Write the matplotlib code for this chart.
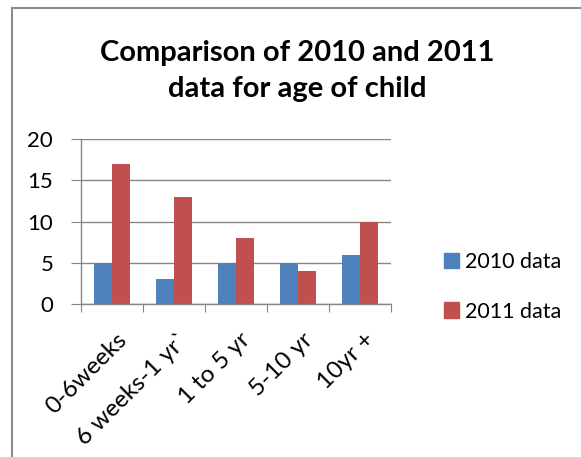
import matplotlib
matplotlib.use("Agg")
import matplotlib.pyplot as plt
import numpy as np
from matplotlib.lines import Line2D

categories = ["0-6weeks", "6 weeks-1 yr`", "1 to 5 yr", "5-10 yr", "10yr +"]
data_2010 = [5, 3, 5, 5, 6]
data_2011 = [17, 13, 8, 4, 10]
series_names = ["2010 data", "2011 data"]
y_ticks = [0, 5, 10, 15, 20]

BLUE = "#4F81BD"
RED = "#C0504D"
GRID = "#868686"

plt.rcParams["font.family"] = ["Lato", "DejaVu Sans"]

W, H = 581, 457
fig = plt.figure(figsize=(W / 100, H / 100), dpi=100)
ax = fig.add_axes([81 / W, 1 - 304 / H, 310 / W, 165 / H])

x = np.arange(len(categories))
bw = 0.29
ax.bar(x - bw / 2, data_2010, bw, color=BLUE, label=series_names[0])
ax.bar(x + bw / 2, data_2011, bw, color=RED, label=series_names[1])

ax.set_xlim(-0.5, len(categories) - 0.5)
ax.set_ylim(0, 20)
ax.set_yticks(y_ticks)
ax.yaxis.grid(True, color=GRID, linewidth=1)
ax.set_axisbelow(True)
for s in ("top", "right"):
    ax.spines[s].set_visible(False)
for s in ("left", "bottom"):
    ax.spines[s].set_color(GRID)
    ax.spines[s].set_linewidth(1)

# category boundaries carry the tick marks, labels sit at centres
ax.set_xticks(np.arange(len(categories) + 1) - 0.5)
ax.set_xticklabels([])
ax.set_xticks(x + 0.06, minor=True)
ax.set_xticklabels(categories, minor=True, rotation=45, ha="right",
                   va="top", rotation_mode="anchor", fontsize=17.5)
ax.tick_params(axis="x", which="minor", length=0, pad=18)
ax.tick_params(axis="x", which="major", direction="out", length=6, color=GRID)
ax.tick_params(axis="y", direction="out", length=7, color=GRID, labelsize=16, pad=13)

fig.text(297 / W, 1 - 71 / H, "Comparison of 2010 and 2011\ndata for age of child",
         ha="center", va="center", fontsize=21, fontweight="bold", linespacing=1.5)

handles = [plt.Rectangle((0, 0), 1, 1, color=BLUE), plt.Rectangle((0, 0), 1, 1, color=RED)]
fig.legend(handles, series_names, loc="center left", bbox_to_anchor=(433 / W, 1 - 287 / H),
           frameon=False, fontsize=15.5, handlelength=0.7, handleheight=0.7,
           handletextpad=0.3, labelspacing=1.35, borderpad=0)

# chart area border (only left and top edges are inside the crop)
fig.add_artist(Line2D([12 / W, 12 / W], [0, 1 - 8 / H], color="#8c8c8c", lw=1.5, transform=fig.transFigure))
fig.add_artist(Line2D([12 / W, 1], [1 - 8 / H, 1 - 8 / H], color="#8c8c8c", lw=1.5, transform=fig.transFigure))

fig.savefig("out.png", dpi=100)
